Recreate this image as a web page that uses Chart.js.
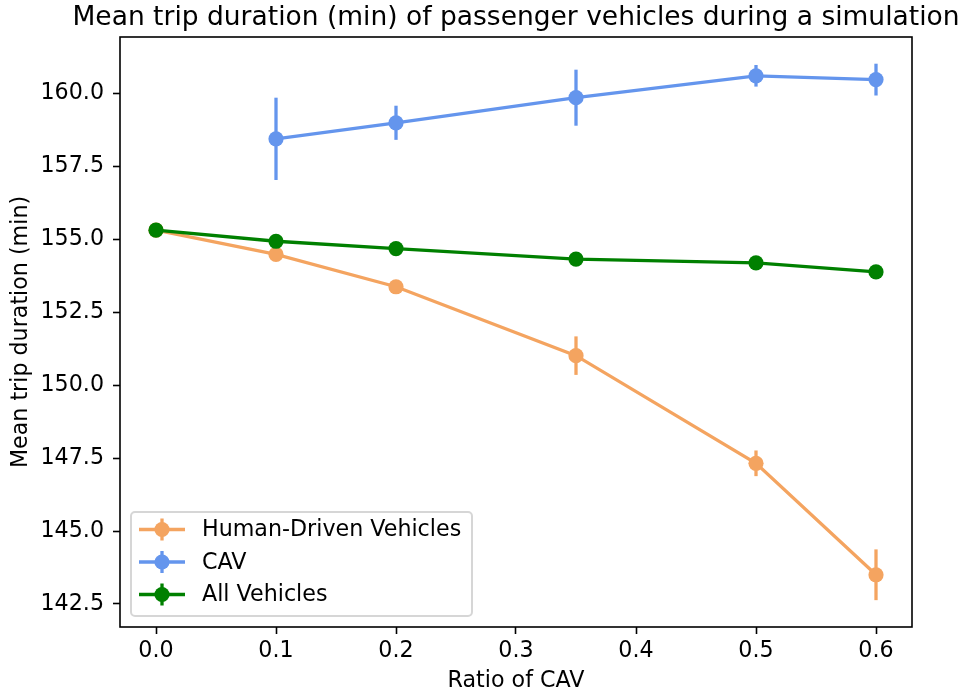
<!DOCTYPE html>
<html>
<head>
<meta charset="utf-8">
<script src="https://cdn.jsdelivr.net/npm/chart.js@4.4.0/dist/chart.umd.min.js"></script>
<style>
  html, body { margin: 0; padding: 0; background: #fff; }
  #wrap { width: 963px; height: 697px; }
</style>
</head>
<body>
<div id="wrap"><canvas id="chart-trip-duration"></canvas></div>
<script>
// values
const chartTitle = 'Mean trip duration (min) of passenger vehicles during a simulation';
const ratios = [0, 0.1, 0.2, 0.35, 0.5, 0.6];
const cavRatios = [0.1, 0.2, 0.35, 0.5, 0.6];

const humanMean = [155.31, 154.48, 153.37, 151.01, 147.32, 143.50];
const humanErr = [0.05, 0.12, 0.15, 0.66, 0.44, 0.87];

const cavMean = [158.44, 158.99, 159.85, 160.60, 160.47];
const cavErr = [1.41, 0.585, 0.96, 0.37, 0.545];

const allMean = [155.31, 154.93, 154.68, 154.32, 154.19, 153.88];
const allErr = [0.05, 0.08, 0.08, 0.09, 0.1, 0.1];

const seriesNames = ['Human-Driven Vehicles', 'CAV', 'All Vehicles'];
const seriesColors = ['#F4A460', '#6495ED', '#008000'];

const FONT = 'DejaVu Sans';
const FS = 22.2;
const LW = 3.3;
const MR = 7.6;
const toPoints = (xs, ys, es) => xs.map((x, i) => ({ x: x, y: ys[i], err: es[i] }));

// vertical error bars, drawn just under each dataset's line/markers
const errorBarPlugin = {
  id: 'errorBars',
  beforeDatasetDraw(chart, args) {
    const ds = chart.data.datasets[args.index];
    const ys = chart.scales.y, xs = chart.scales.x;
    const ctx = chart.ctx;
    ctx.save();
    ctx.strokeStyle = ds.borderColor;
    ctx.lineWidth = LW;
    ds.data.forEach(p => {
      const px = xs.getPixelForValue(p.x);
      ctx.beginPath();
      ctx.moveTo(px, ys.getPixelForValue(p.y + p.err));
      ctx.lineTo(px, ys.getPixelForValue(p.y - p.err));
      ctx.stroke();
    });
    ctx.restore();
  }
};

// axes frame, title and matplotlib-like legend
const framePlugin = {
  id: 'frame',
  afterDraw(chart) {
    const ctx = chart.ctx;
    const a = chart.chartArea;
    ctx.save();
    ctx.strokeStyle = '#000';
    ctx.lineWidth = 1.6;
    ctx.strokeRect(a.left, a.top, a.right - a.left, a.bottom - a.top);

    ctx.fillStyle = '#000';
    ctx.font = '26.5px "' + FONT + '"';
    ctx.textAlign = 'center';
    ctx.textBaseline = 'alphabetic';
    ctx.fillText(chartTitle, (a.left + a.right) / 2, 25);

    // legend box
    const bx = 131, by = 512, bw = 341, bh = 104, r = 4;
    ctx.beginPath();
    ctx.moveTo(bx + r, by);
    ctx.arcTo(bx + bw, by, bx + bw, by + bh, r);
    ctx.arcTo(bx + bw, by + bh, bx, by + bh, r);
    ctx.arcTo(bx, by + bh, bx, by, r);
    ctx.arcTo(bx, by, bx + bw, by, r);
    ctx.closePath();
    ctx.fillStyle = 'rgba(255,255,255,0.8)';
    ctx.fill();
    ctx.strokeStyle = 'rgba(204,204,204,0.8)';
    ctx.lineWidth = 2;
    ctx.stroke();

    const rows = [529.5, 562, 594.5];
    seriesNames.forEach((name, i) => {
      const cy = rows[i];
      ctx.strokeStyle = seriesColors[i];
      ctx.fillStyle = seriesColors[i];
      ctx.lineWidth = LW;
      ctx.beginPath();
      ctx.moveTo(139, cy); ctx.lineTo(185, cy);
      ctx.moveTo(162, cy - 11); ctx.lineTo(162, cy + 11);
      ctx.stroke();
      ctx.beginPath();
      ctx.arc(162, cy, MR, 0, Math.PI * 2);
      ctx.fill();
      ctx.fillStyle = '#000';
      ctx.font = FS + 'px "' + FONT + '"';
      ctx.textAlign = 'left';
      ctx.textBaseline = 'middle';
      ctx.fillText(name, 202, cy + 1);
    });
    ctx.restore();
  }
};

const mkSet = (i, pts, order) => ({
  label: seriesNames[i],
  data: pts,
  borderColor: seriesColors[i],
  backgroundColor: seriesColors[i],
  borderWidth: LW,
  pointRadius: MR,
  pointHoverRadius: MR,
  pointBorderWidth: 0,
  pointBackgroundColor: seriesColors[i],
  tension: 0,
  fill: false,
  order: order
});

const ctx_trip = document.getElementById('chart-trip-duration');

new Chart(ctx_trip, {
  type: 'line',
  data: {
    datasets: [
      mkSet(0, toPoints(ratios, humanMean, humanErr), 3),
      mkSet(1, toPoints(cavRatios, cavMean, cavErr), 2),
      mkSet(2, toPoints(ratios, allMean, allErr), 1)
    ]
  },
  options: {
    responsive: true,
    maintainAspectRatio: false,
    animation: false,
    events: [],
    layout: { padding: { top: 37, right: 51, left: 0, bottom: 0 } },
    plugins: {
      legend: { display: false },
      title: { display: false },
      tooltip: { enabled: false }
    },
    scales: {
      x: {
        type: 'linear',
        min: -0.03,
        max: 0.63,
        afterFit: s => { s.height = 70; },
        border: { display: false },
        grid: { drawOnChartArea: false, drawTicks: true, tickLength: 7, tickColor: '#000', tickWidth: 1.6 },
        ticks: {
          stepSize: 0.1,
          includeBounds: false,
          padding: 4,
          color: '#000',
          font: { family: FONT, size: FS },
          maxRotation: 0,
          callback: v => v.toFixed(1)
        },
        title: {
          display: true,
          text: 'Ratio of CAV',
          color: '#000',
          font: { family: FONT, size: FS },
          padding: { top: 0, bottom: 2.5 }
        }
      },
      y: {
        type: 'linear',
        min: 141.71,
        max: 161.93,
        afterFit: s => { s.width = 120; },
        border: { display: false },
        grid: { drawOnChartArea: false, drawTicks: true, tickLength: 7, tickColor: '#000', tickWidth: 1.6 },
        ticks: {
          stepSize: 2.5,
          includeBounds: false,
          padding: 9,
          color: '#000',
          font: { family: FONT, size: FS },
          callback: v => v.toFixed(1)
        },
        title: {
          display: true,
          text: 'Mean trip duration (min)',
          color: '#000',
          font: { family: FONT, size: FS },
          padding: { top: 7.5, bottom: 0 }
        }
      }
    }
  },
  plugins: [errorBarPlugin, framePlugin]
});
</script>
</body>
</html>
